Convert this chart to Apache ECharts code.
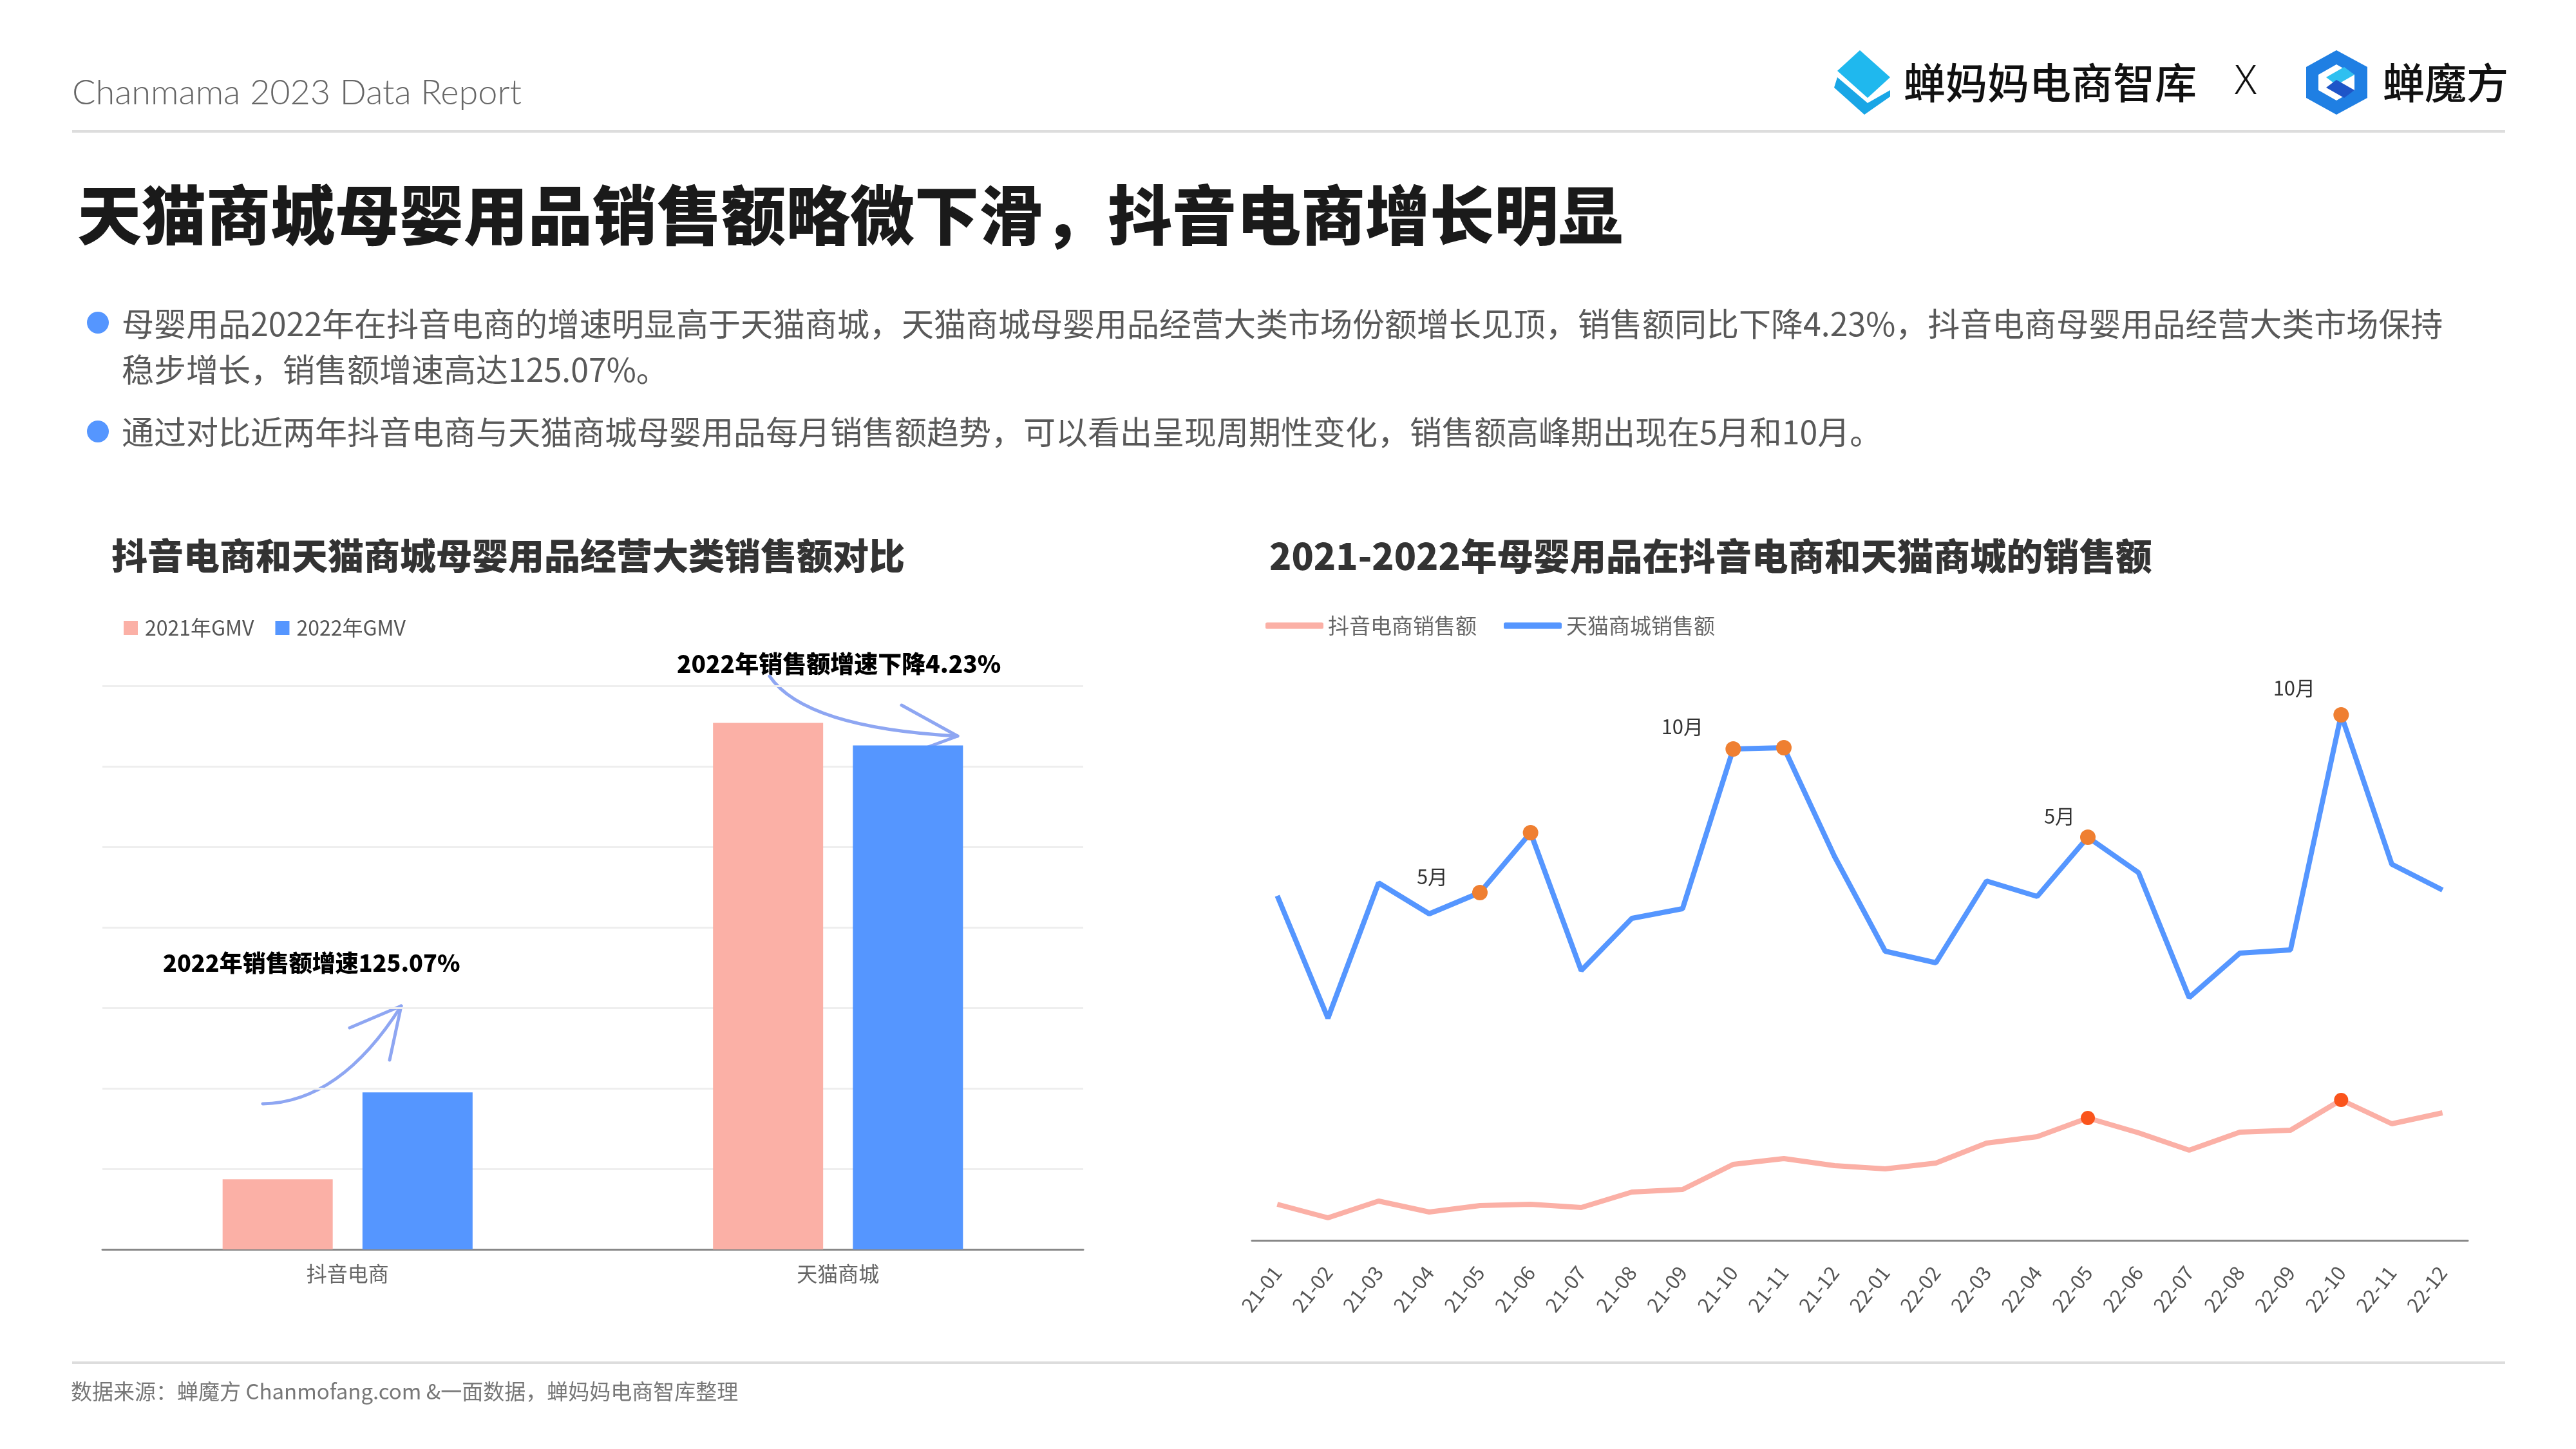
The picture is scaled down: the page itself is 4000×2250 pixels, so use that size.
<!DOCTYPE html>
<html><head><meta charset="utf-8">
<script src="https://cdn.jsdelivr.net/npm/echarts@6/dist/echarts.min.js"></script>
<style>html,body{margin:0;padding:0;background:#fff}#c{width:4000px;height:2250px}</style>
</head><body><div id="c"></div><script>
// ---------- data ----------
const barCategories = ['抖音电商', '天猫商城'];
const gmv2021 = [0.87, 6.54];
const gmv2022 = [1.95, 6.26];

const months = ['21-01','21-02','21-03','21-04','21-05','21-06','21-07','21-08','21-09','21-10','21-11','21-12',
                '22-01','22-02','22-03','22-04','22-05','22-06','22-07','22-08','22-09','22-10','22-11','22-12'];
const douyinMonthly = [0.56,0.35,0.61,0.44,0.54,0.56,0.51,0.75,0.79,1.18,1.27,1.16,
                       1.11,1.20,1.51,1.61,1.90,1.67,1.40,1.68,1.71,2.18,1.81,1.98];
const tmallMonthly  = [5.35,3.45,5.55,5.07,5.40,6.33,4.19,5.00,5.15,7.63,7.65,5.96,
                       4.49,4.31,5.58,5.34,6.26,5.71,3.77,4.46,4.51,8.16,5.84,5.44];
const douyinHighlights = [16, 21];
const tmallHighlights = [4, 5, 9, 10, 16, 21];
const peakLabels = { 4: '5月', 9: '10月', 16: '5月', 21: '10月' };

// ---------- styles ----------
const PINK = '#FBB0A6', BLUE = '#5596FF';
const FONT = '"Noto Sans CJK SC", "Noto Sans", sans-serif';
const labelOffsets = { 4: [-74, 8], 9: [-79, -2], 16: [-44, 0], 21: [-73, -9] };

const tmallData = tmallMonthly.map((v, i) => {
  const item = { value: v };
  if (tmallHighlights.includes(i)) {
    item.symbol = 'circle'; item.symbolSize = 24;
    item.itemStyle = { color: '#EF7F31' };
  }
  if (peakLabels[i]) {
    item.label = { show: true, position: 'top', offset: labelOffsets[i], formatter: peakLabels[i],
      fontSize: 31, fontWeight: 'normal', color: '#333', fontFamily: FONT };
  }
  return item;
});
const douyinData = douyinMonthly.map((v, i) => {
  const item = { value: v };
  if (douyinHighlights.includes(i)) {
    item.symbol = 'circle'; item.symbolSize = 22;
    item.itemStyle = { color: '#FA541C' };
  }
  return item;
});

const chart = echarts.init(document.getElementById('c'));
const txt = (x, y, text, font, fill, extra) => Object.assign({
  type: 'text', x: x, y: y, silent: true,
  style: { text: text, font: font, fill: fill, verticalAlign: 'middle', align: 'left' }
}, extra || {});

const option = {
  backgroundColor: '#fff',
  animation: false,
  textStyle: { fontFamily: FONT },
  title: [
    { text: '抖音电商和天猫商城母婴用品经营大类销售额对比', left: 168, top: 830,
      textStyle: { fontSize: 56, fontWeight: 900, color: '#333', fontFamily: FONT } },
    { text: '2021-2022年母婴用品在抖音电商和天猫商城的销售额', left: 1966, top: 830,
      textStyle: { fontSize: 56.5, fontWeight: 900, color: '#333', fontFamily: FONT } }
  ],
  legend: [
    { data: ['2021年GMV', '2022年GMV'], left: 187, top: 954, icon: 'rect',
      itemWidth: 22, itemHeight: 22, itemGap: 33,
      textStyle: { fontSize: 32, color: '#555', padding: [0, 0, 0, 6] } },
    { data: ['抖音电商销售额', '天猫商城销售额'], left: 1960, top: 950, icon: 'roundRect',
      itemWidth: 90, itemHeight: 10, itemGap: 42,
      textStyle: { fontSize: 33, color: '#666', padding: [0, 0, 0, 2] } }
  ],
  grid: [
    { left: 159, right: 2318, top: 1065, bottom: 310 },
    { left: 1944, right: 168, top: 1026, bottom: 324 }
  ],
  xAxis: [
    { type: 'category', gridIndex: 0, data: barCategories,
      axisLine: { lineStyle: { color: '#888', width: 3 } }, axisTick: { show: false },
      axisLabel: { fontSize: 32, color: '#666', margin: 22 } },
    { type: 'category', gridIndex: 1, data: months, boundaryGap: true,
      axisLine: { lineStyle: { color: '#888', width: 3 } }, axisTick: { show: false },
      axisLabel: { fontSize: 31, color: '#555', rotate: 52, margin: 44, interval: 0 } }
  ],
  yAxis: [
    { type: 'value', gridIndex: 0, min: 0, max: 7, interval: 1,
      axisLabel: { show: false }, axisLine: { show: false }, axisTick: { show: false },
      splitLine: { lineStyle: { color: '#EEEEEE', width: 3 } } },
    { type: 'value', gridIndex: 1, min: 0, max: 9, interval: 1,
      axisLabel: { show: false }, axisLine: { show: false }, axisTick: { show: false },
      splitLine: { show: false } }
  ],
  series: [
    { name: '2021年GMV', type: 'bar', xAxisIndex: 0, yAxisIndex: 0, data: gmv2021,
      barWidth: 171, barGap: '27%', itemStyle: { color: PINK } },
    { name: '2022年GMV', type: 'bar', xAxisIndex: 0, yAxisIndex: 0, data: gmv2022,
      barWidth: 171, barGap: '27%', itemStyle: { color: BLUE } },
    { name: '抖音电商销售额', type: 'line', xAxisIndex: 1, yAxisIndex: 1, data: douyinData,
      symbol: 'none', showSymbol: true, lineStyle: { color: PINK, width: 8 }, itemStyle: { color: PINK }, z: 3 },
    { name: '天猫商城销售额', type: 'line', xAxisIndex: 1, yAxisIndex: 1, data: tmallData,
      symbol: 'none', showSymbol: true, lineStyle: { color: BLUE, width: 8 }, itemStyle: { color: BLUE }, z: 4 }
  ],
  graphic: [
    // header
    txt(112, 145, 'Chanmama 2023 Data Report', '300 54px Lato, "Open Sans", sans-serif', '#666'),
    { type: 'line', silent: true, shape: { x1: 112, y1: 204, x2: 3890, y2: 204 }, style: { stroke: '#DDDDDD', lineWidth: 4 } },
    // logos
    { type: 'polygon', silent: true, shape: { points: [[2888,78],[2935,120],[2900,152],[2853,110]] }, style: { fill: '#1FB8EE' } },
    { type: 'polygon', silent: true, shape: { points: [[2853,120],[2900,160],[2935,140],[2935,150],[2895,178],[2848,136]] }, style: { fill: '#19A6E6' } },
    { type: 'polygon', silent: true, shape: { points: [[3628,78],[3676,104],[3676,152],[3628,178],[3581,152],[3581,104]] }, style: { fill: '#1F7FE3' } },
    { type: 'polygon', silent: true, shape: { points: [[3628,100],[3656,116],[3656,140],[3628,156],[3600,140],[3600,116]] }, style: { fill: '#FFFFFF' } },
    { type: 'polygon', silent: true, shape: { points: [[3612,120],[3640,104],[3656,116],[3628,132]] }, style: { fill: '#2FC0F0' } },
    { type: 'polygon', silent: true, shape: { points: [[3612,136],[3640,152],[3656,140],[3628,124]] }, style: { fill: '#1E55C8' } },
    txt(2956, 128, '蝉妈妈电商智库', '500 65px ' + FONT, '#111'),
    txt(3470, 128, 'X', '300 62px "Noto Sans", sans-serif', '#111'),
    txt(3700, 128, '蝉魔方', '500 65px ' + FONT, '#111'),
    // main title
    txt(120, 334, '天猫商城母婴用品销售额略微下滑，抖音电商增长明显', '900 100px ' + FONT, '#1A1A1A'),
    // bullets
    { type: 'circle', silent: true, shape: { cx: 152, cy: 501, r: 17 }, style: { fill: BLUE } },
    txt(189, 503, '母婴用品2022年在抖音电商的增速明显高于天猫商城，天猫商城母婴用品经营大类市场份额增长见顶，销售额同比下降4.23%，抖音电商母婴用品经营大类市场保持', '400 50px ' + FONT, '#595959'),
    txt(189, 574, '稳步增长，销售额增速高达125.07%。', '400 50px ' + FONT, '#595959'),
    { type: 'circle', silent: true, shape: { cx: 152, cy: 670, r: 17 }, style: { fill: BLUE } },
    txt(189, 671, '通过对比近两年抖音电商与天猫商城母婴用品每月销售额趋势，可以看出呈现周期性变化，销售额高峰期出现在5月和10月。', '400 50px ' + FONT, '#595959'),
    // annotations
    txt(1051, 1031, '2022年销售额增速下降4.23%', '900 37px ' + FONT, '#000'),
    txt(253, 1495, '2022年销售额增速125.07%', '900 36px ' + FONT, '#000'),
    { type: 'bezierCurve', silent: true, shape: { x1: 408, y1: 1714, x2: 623, y2: 1562, cpx1: 528, cpy1: 1712 },
      style: { stroke: '#8EA6F2', lineWidth: 5, fill: null, lineCap: 'round' } },
    { type: 'polyline', silent: true, shape: { points: [[543,1596],[623,1562],[605,1646]] },
      style: { stroke: '#8EA6F2', lineWidth: 5, fill: null, lineCap: 'round', lineJoin: 'round' } },
    { type: 'bezierCurve', silent: true, shape: { x1: 1195, y1: 1050, x2: 1487, y2: 1143, cpx1: 1250, cpy1: 1130 },
      style: { stroke: '#8EA6F2', lineWidth: 5, fill: null, lineCap: 'round' } },
    { type: 'polyline', silent: true, shape: { points: [[1400,1095],[1487,1143],[1392,1178]] },
      style: { stroke: '#8EA6F2', lineWidth: 5, fill: null, lineCap: 'round', lineJoin: 'round' } },
    // footer
    { type: 'line', silent: true, shape: { x1: 112, y1: 2116, x2: 3890, y2: 2116 }, style: { stroke: '#DDDDDD', lineWidth: 4 } },
    txt(110, 2160, '数据来源：蝉魔方 Chanmofang.com &一面数据，蝉妈妈电商智库整理', '400 33px ' + FONT, '#777')
  ]
};
chart.setOption(option);
</script></body></html>
